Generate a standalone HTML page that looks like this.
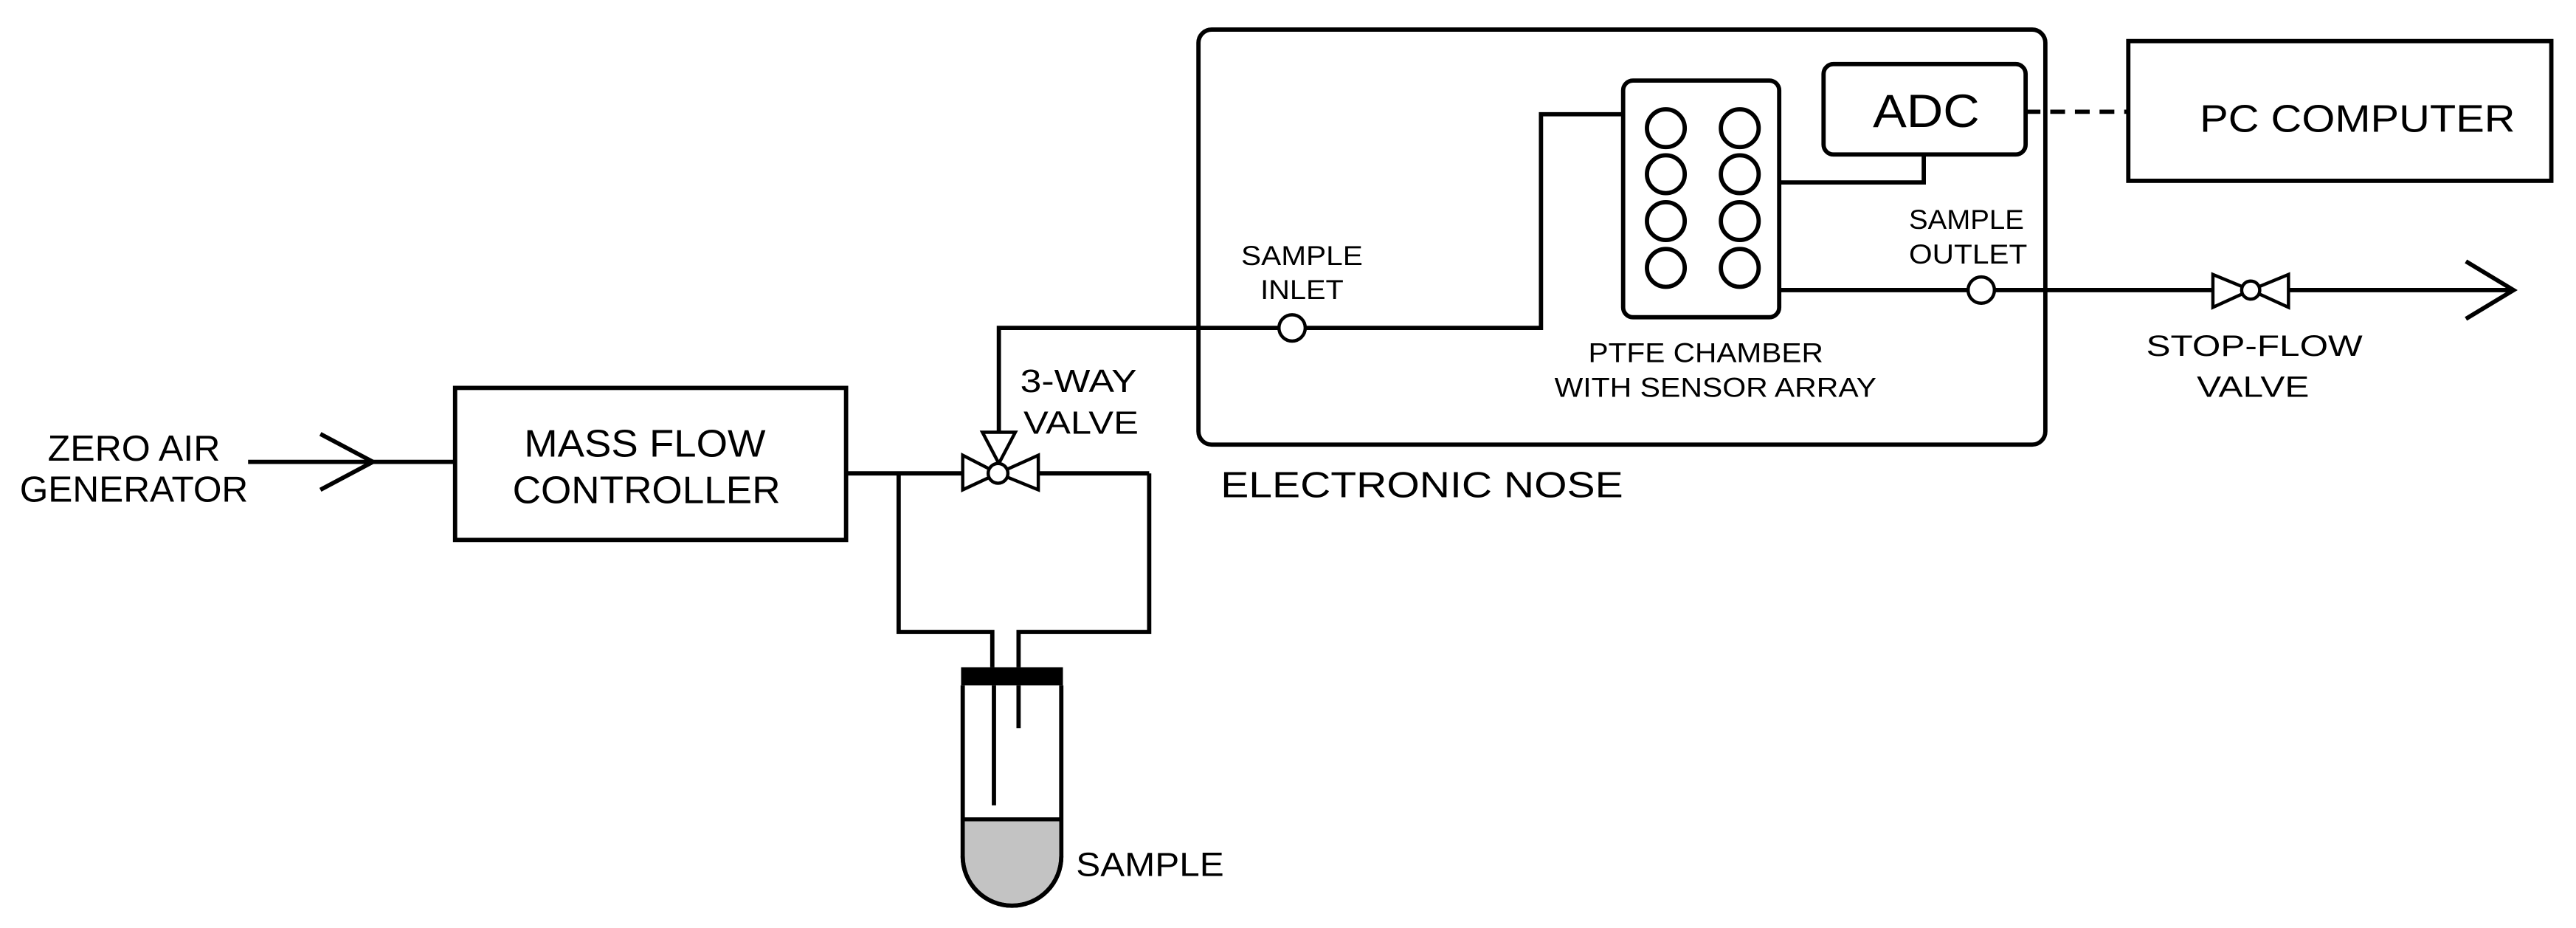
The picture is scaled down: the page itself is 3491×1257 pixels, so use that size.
<!DOCTYPE html>
<html><head><meta charset="utf-8"><style>
html,body{margin:0;padding:0;background:#fff;}
svg{display:block;}
text{font-family:"Liberation Sans",Arial,sans-serif;fill:#000;}
</style></head><body>
<svg width="3491" height="1257" viewBox="0 0 1568 564.6" xmlns="http://www.w3.org/2000/svg">
<rect x="0" y="0" width="1568" height="564.6" fill="#fff"/>
<g fill="none" stroke="#000" stroke-width="2.6">
<!-- inlet arrow -->
<line x1="151" y1="281" x2="277" y2="281"/>
<polyline points="195,264 227,281 195,298"/>
<!-- MFC -->
<rect x="277" y="236" width="238" height="92.5"/>
<line x1="515" y1="288" x2="586" y2="288"/>
<line x1="632" y1="288" x2="699.5" y2="288"/>
<polyline points="547,288 547,384.5 604,384.5 604,406"/>
<polyline points="699.5,288 699.5,384.5 620,384.5 620,406"/>
<!-- valve -->
<polygon points="586,277 586,298 607.5,288" stroke-width="2"/>
<polygon points="632,277 632,298 607.5,288" stroke-width="2"/>
<polygon points="598,263 618,263 608,282" stroke-width="2"/>
<circle cx="607.5" cy="288" r="6" fill="#fff" stroke-width="2"/>
<!-- vial -->
<path d="M586,417 V521 A30,30 0 0 0 646,521 V417" fill="none"/>
<line x1="605" y1="417" x2="605" y2="490"/>
<line x1="620" y1="417" x2="620" y2="443"/>
<!-- valve to inlet -->
<polyline points="608,263 608,199.5 938,199.5 938,69.5 988,69.5"/>
<!-- e-nose box -->
<rect x="729.5" y="18" width="515.5" height="252.5" rx="8"/>
<!-- chamber -->
<rect x="988" y="49" width="95" height="144" rx="6"/>
<circle cx="1014" cy="78" r="11.5"/><circle cx="1059" cy="78" r="11.5"/>
<circle cx="1014" cy="106" r="11.5"/><circle cx="1059" cy="106" r="11.5"/>
<circle cx="1014" cy="134.5" r="11.5"/><circle cx="1059" cy="134.5" r="11.5"/>
<circle cx="1014" cy="163" r="11.5"/><circle cx="1059" cy="163" r="11.5"/>
<!-- ADC -->
<rect x="1110" y="39" width="123" height="55" rx="6"/>
<polyline points="1083,111 1171,111 1171,94"/>
<line x1="1233" y1="68" x2="1295" y2="68" stroke-dasharray="9,6"/>
<!-- PC -->
<rect x="1295.5" y="25" width="257.5" height="85"/>
<!-- outlet -->
<line x1="1083" y1="176.5" x2="1530" y2="176.5"/>
<polyline points="1501,159 1530,176.5 1501,194"/>
<polygon points="1347,167 1347,187 1370,176.5" fill="#fff" stroke-width="2"/>
<polygon points="1393,167 1393,187 1370,176.5" fill="#fff" stroke-width="2"/>
<circle cx="1370" cy="176.5" r="5.5" fill="#fff" stroke-width="2"/>
</g>
<!-- vial fill & cap -->
<path d="M587.3,498.5 H644.7 V521 A28.7,28.7 0 0 1 587.3,521 Z" fill="#c3c3c3"/>
<line x1="586" y1="498.5" x2="646" y2="498.5" stroke="#000" stroke-width="2.4"/>
<path d="M586,521 A30,30 0 0 0 646,521" fill="none" stroke="#000" stroke-width="2.6"/>
<rect x="585" y="406" width="62" height="11" fill="#000"/>
<!-- port circles -->
<circle cx="786.5" cy="199.5" r="8" fill="#fff" stroke="#000" stroke-width="2"/>
<circle cx="1206" cy="176.5" r="8" fill="#fff" stroke="#000" stroke-width="2"/>
<!-- text -->
<g lengthAdjust="spacingAndGlyphs">
<text x="29" y="280.3" font-size="22" textLength="105" lengthAdjust="spacingAndGlyphs">ZERO AIR</text>
<text x="12" y="305.3" font-size="22" textLength="139" lengthAdjust="spacingAndGlyphs">GENERATOR</text>
<text x="319" y="277.8" font-size="23.5" textLength="147" lengthAdjust="spacingAndGlyphs">MASS FLOW</text>
<text x="312" y="306" font-size="23.5" textLength="163" lengthAdjust="spacingAndGlyphs">CONTROLLER</text>
<text x="621" y="238.5" font-size="19.5" textLength="71" lengthAdjust="spacingAndGlyphs">3-WAY</text>
<text x="623" y="263.8" font-size="19.5" textLength="70" lengthAdjust="spacingAndGlyphs">VALVE</text>
<text x="655" y="533" font-size="20.5" textLength="90" lengthAdjust="spacingAndGlyphs">SAMPLE</text>
<text x="755.5" y="161.3" font-size="16.5" textLength="74" lengthAdjust="spacingAndGlyphs">SAMPLE</text>
<text x="767.2" y="182" font-size="16.5" textLength="50.6" lengthAdjust="spacingAndGlyphs">INLET</text>
<text x="966.8" y="220.4" font-size="16.5" textLength="143" lengthAdjust="spacingAndGlyphs">PTFE CHAMBER</text>
<text x="946.2" y="241.5" font-size="16.5" textLength="196" lengthAdjust="spacingAndGlyphs">WITH SENSOR ARRAY</text>
<text x="1162" y="139.3" font-size="16.5" textLength="70" lengthAdjust="spacingAndGlyphs">SAMPLE</text>
<text x="1162" y="160.3" font-size="16.5" textLength="72" lengthAdjust="spacingAndGlyphs">OUTLET</text>
<text x="1306.4" y="216.4" font-size="18" textLength="131.7" lengthAdjust="spacingAndGlyphs">STOP-FLOW</text>
<text x="1337.2" y="241.5" font-size="18" textLength="68.4" lengthAdjust="spacingAndGlyphs">VALVE</text>
<text x="743" y="302.6" font-size="22" textLength="245" lengthAdjust="spacingAndGlyphs">ELECTRONIC NOSE</text>
<text x="1140" y="77.2" font-size="28.5" textLength="65" lengthAdjust="spacingAndGlyphs">ADC</text>
<text x="1339" y="80.2" font-size="23.5" textLength="192" lengthAdjust="spacingAndGlyphs">PC COMPUTER</text>
</g>
</svg>
</body></html>
